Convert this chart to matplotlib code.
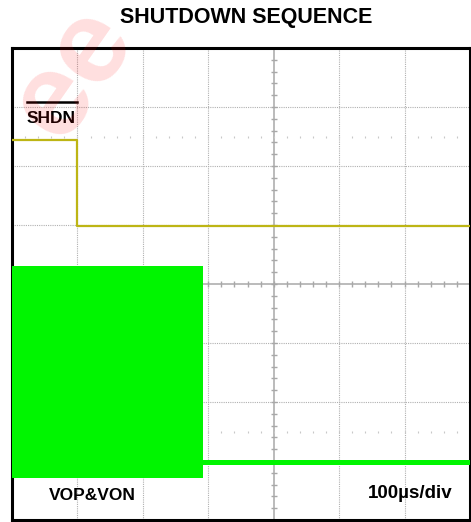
import matplotlib.pyplot as plt
import numpy as np

# scope screen in divisions (screen is cropped: x from -4 to 3, y from -4 to 4)
x_range = (-4, 3)
y_range = (-4, 4)

# SHDN trace (yellow): step down at -3 div
shdn_t = [-4.0, -3.0, -3.0, 3.0]
shdn_v = [2.44, 2.44, 0.98, 0.98]

# VOP&VON (green): burst envelope, then flat after shutdown
burst_t = [-4.0, -1.08]
burst_hi = [0.31, 0.31]
burst_lo = [-3.29, -3.29]
tail_t = [-1.08, 3.0]
tail_hi = [-2.99, -2.99]
tail_lo = [-3.07, -3.07]

plt.rcParams['font.family'] = ['Liberation Sans', 'DejaVu Sans']

fig = plt.figure(figsize=(4.71, 5.22), dpi=100)
ax = fig.add_axes([12 / 471, 2 / 522, 458 / 471, 472 / 522])
ax.set_xlim(*x_range)
ax.set_ylim(*y_range)
ax.set_xticks([])
ax.set_yticks([])
for sp in ax.spines.values():
    sp.set_linewidth(2.2)
    sp.set_color('black')

# grid
for gx in range(x_range[0] + 1, x_range[1]):
    if gx != 0:
        ax.axvline(gx, color='#b0b0b0', lw=0.8, ls=(0, (1, 1)), zorder=1)
for gy in range(y_range[0] + 1, y_range[1]):
    if gy != 0:
        ax.axhline(gy, color='#b0b0b0', lw=0.8, ls=(0, (1, 1)), zorder=1)

# centre axes with minor ticks
ax.axvline(0, color='#a8a8a8', lw=1.1, zorder=1)
ax.axhline(0, color='#a8a8a8', lw=1.1, zorder=1)
tx = np.arange(-4, 3.01, 0.2)
ty = np.arange(-4, 4.01, 0.2)
ax.plot(tx, np.zeros_like(tx), '|', color='#a8a8a8', ms=5, mew=1, zorder=1)
ax.plot(np.zeros_like(ty), ty, '_', color='#a8a8a8', ms=5, mew=1, zorder=1)
for yy in (2.5, -2.5):
    ax.plot(tx, np.full_like(tx, yy), '|', color='#c8c8c8', ms=2, mew=0.8, zorder=1)

# traces
ax.plot(shdn_t, shdn_v, color='#bdb515', lw=1.6, zorder=3)
ax.fill_between(burst_t, burst_lo, burst_hi, color='#00f500', lw=0, zorder=3)
ax.fill_between(tail_t, tail_lo, tail_hi, color='#00f500', lw=0, zorder=3)

# labels
ax.plot([-3.77, -3.01], [3.08, 3.08], color='black', lw=1.8, zorder=4)
ax.text(-3.78, 2.80, 'SHDN', fontsize=12.5, fontweight='bold', va='center', ha='left')
ax.text(-3.44, -3.58, 'VOP&VON', fontsize=12.5, fontweight='bold', va='center', ha='left')
ax.text(1.44, -3.55, '100µs/div', fontsize=13.5, fontweight='bold', va='center', ha='left')

fig.text(246 / 471, 1 - 18 / 522, 'SHUTDOWN SEQUENCE', fontsize=15.5,
         fontweight='bold', ha='center', va='center')

# faint watermark in the corner
fig.text(-0.02, 0.86, 'ee', fontsize=85, color=(1, 0, 0, 0.13), rotation=55,
         ha='left', va='center', fontweight='bold', zorder=0)

fig.savefig('out.png', dpi=100)
